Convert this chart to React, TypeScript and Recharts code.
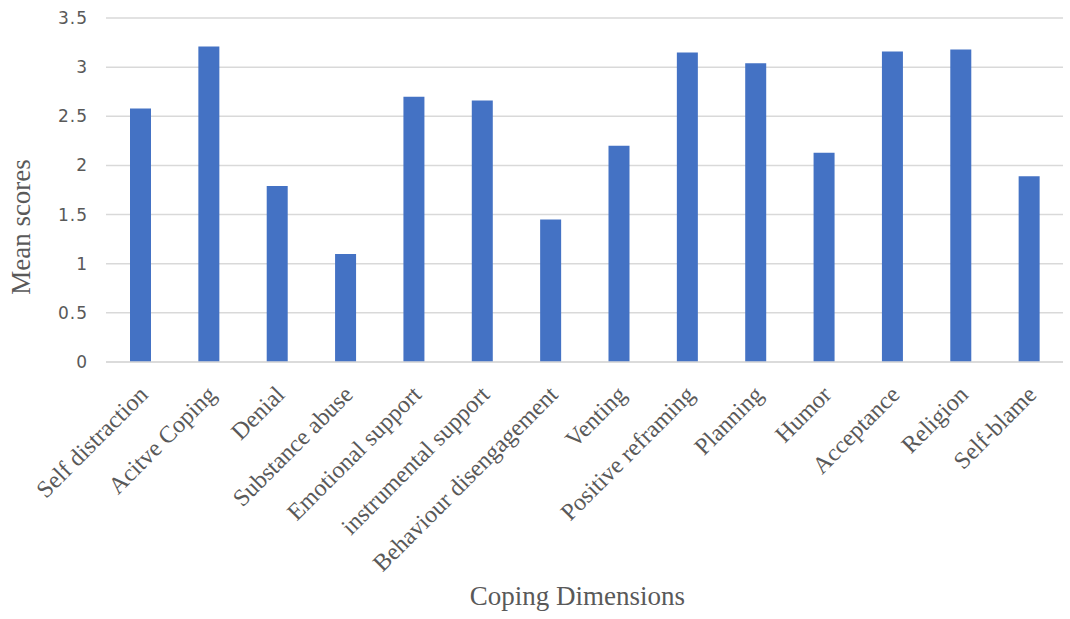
import React from "react";
import { BarChart, Bar, XAxis, YAxis, CartesianGrid, Label } from "recharts";

const categories = [
  "Self distraction",
  "Acitve Coping",
  "Denial",
  "Substance abuse",
  "Emotional support",
  "instrumental support",
  "Behaviour disengagement",
  "Venting",
  "Positive reframing",
  "Planning",
  "Humor",
  "Acceptance",
  "Religion",
  "Self-blame",
];

const meanScores = [2.58, 3.21, 1.79, 1.1, 2.7, 2.66, 1.45, 2.2, 3.15, 3.04, 2.13, 3.16, 3.18, 1.89];

const yTicks = [0, 0.5, 1, 1.5, 2, 2.5, 3, 3.5];

const data = categories.map((name, i) => ({ name, value: meanScores[i] }));

const CategoryTick = (props: any) => {
  const { x, y, payload } = props;
  return (
    <g transform={`translate(${x + 9},${y + 26})`}>
      <text
        x={0}
        y={0}
        textAnchor="end"
        transform="rotate(-45)"
        fill="#595959"
        fontFamily="'Liberation Serif', 'Times New Roman', serif"
        fontSize={24}
      >
        {payload.value}
      </text>
    </g>
  );
};

export default function App() {
  return (
    <div style={{ position: "absolute", left: 0, top: 0, width: 1070, height: 619, background: "#fff" }}>
      <BarChart
        width={1070}
        height={619}
        data={data}
        margin={{ top: 18, right: 7, left: 0, bottom: 0 }}
      >
        <CartesianGrid vertical={false} stroke="#d9d9d9" strokeWidth={1.5} />
        <XAxis
          dataKey="name"
          interval={0}
          height={257}
          tickLine={false}
          axisLine={{ stroke: "#d9d9d9", strokeWidth: 1.5 }}
          tick={<CategoryTick />}
        >
          <Label
            value="Coping Dimensions"
            position="insideBottom"
            offset={14}
            dx={-7}
            fill="#595959"
            style={{ fontFamily: "'Liberation Serif', 'Times New Roman', serif", fontSize: 27 }}
          />
        </XAxis>
        <YAxis
          width={106}
          domain={[0, 3.5]}
          ticks={yTicks}
          interval={0}
          tickLine={false}
          axisLine={false}
          tickMargin={12}
          tick={{ fill: "#595959", fontSize: 17, fontFamily: "'DejaVu Sans', sans-serif", letterSpacing: 1 }}
        >
          <Label
            value="Mean scores"
            angle={-90}
            position="insideLeft"
            offset={0}
            dx={20}
            dy={37}
            fill="#595959"
            style={{ fontFamily: "'Liberation Serif', 'Times New Roman', serif", fontSize: 27, textAnchor: "middle" }}
          />
        </YAxis>
        <Bar dataKey="value" fill="#4472C4" barSize={21} isAnimationActive={false} />
      </BarChart>
    </div>
  );
}
